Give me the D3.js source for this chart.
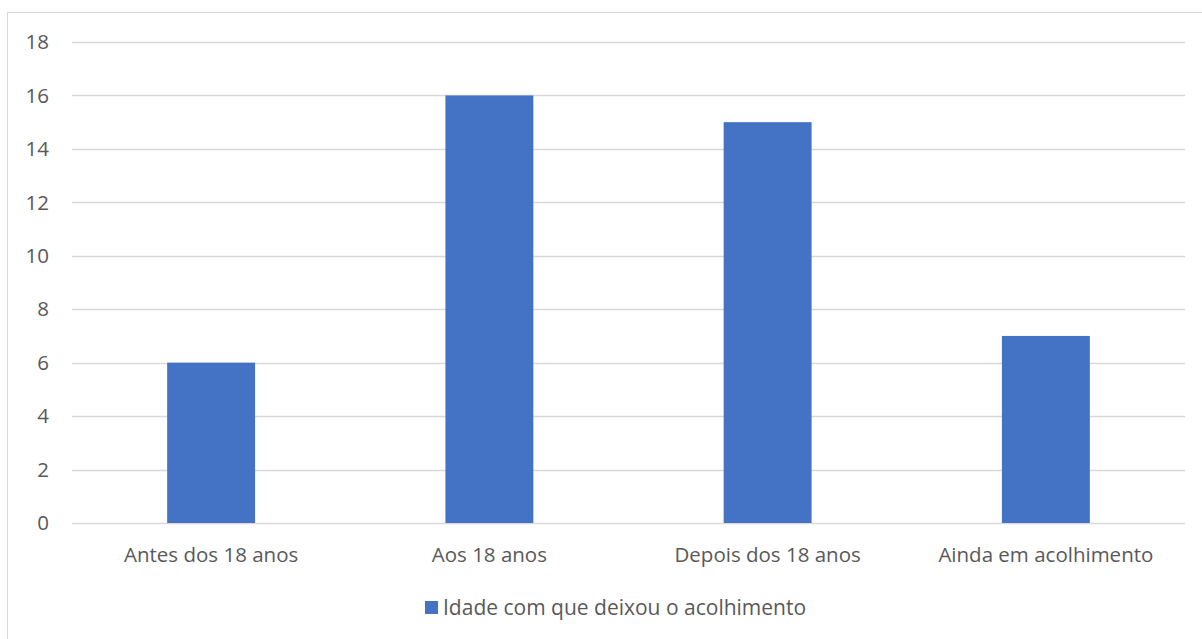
<!DOCTYPE html>
<html>
<head>
<meta charset="utf-8">
<script src="https://cdn.jsdelivr.net/npm/d3@7"></script>
<style>
  body { margin: 0; background: #fff; }
  text { font-family: "Open Sans", "Noto Sans", sans-serif; fill: #595959; }
</style>
</head>
<body>
<div id="chart"></div>
<script>
// categories and values
var categories = ["Antes dos 18 anos", "Aos 18 anos", "Depois dos 18 anos", "Ainda em acolhimento"]
var values = [6, 16, 15, 7]
var yTicks = [0, 2, 4, 6, 8, 10, 12, 14, 16, 18]
var seriesName = "Idade com que deixou o acolhimento"
var barColor = "#4472c4"

var width = 1202, height = 639;
var plot = { left: 72, right: 1185, top: 42, bottom: 523 };

var svg = d3.select("#chart").append("svg")
    .attr("width", width)
    .attr("height", height);

// outer chart border (cut off at right/bottom like the reference)
svg.append("rect")
    .attr("x", 7.5)
    .attr("y", 12.5)
    .attr("width", 1210)
    .attr("height", 640)
    .attr("fill", "none")
    .attr("stroke", "#d9d9d9");

var x = d3.scaleBand()
    .domain(categories)
    .range([plot.left, plot.right])
    .paddingInner(0.684)
    .paddingOuter(0.342);

var y = d3.scaleLinear()
    .domain([0, 18])
    .range([plot.bottom, plot.top]);

// gridlines
svg.append("g").selectAll("line")
    .data(yTicks)
    .enter().append("line")
    .attr("x1", plot.left)
    .attr("x2", plot.right)
    .attr("y1", function(d) { return Math.round(y(d)) + 0.5 })
    .attr("y2", function(d) { return Math.round(y(d)) + 0.5 })
    .attr("stroke", "#d9d9d9")
    .attr("stroke-width", 1.3);

// y tick labels
svg.append("g").selectAll("text")
    .data(yTicks)
    .enter().append("text")
    .attr("x", 49)
    .attr("y", function(d) { return y(d) })
    .attr("dy", "0.35em")
    .attr("text-anchor", "end")
    .style("font-size", "20.5px")
    .text(function(d) { return d });

// bars
svg.append("g").selectAll("rect")
    .data(values)
    .enter().append("rect")
    .attr("x", function(d, i) { return x(categories[i]) })
    .attr("width", x.bandwidth())
    .attr("y", function(d) { return y(d) })
    .attr("height", function(d) { return y(0) - y(d) })
    .attr("fill", barColor);

// x labels
svg.append("g").selectAll("text")
    .data(categories)
    .enter().append("text")
    .attr("x", function(d) { return x(d) + x.bandwidth() / 2 })
    .attr("y", 555)
    .attr("dy", "0.35em")
    .attr("text-anchor", "middle")
    .style("font-size", "20.5px")
    .text(function(d) { return d });

// legend
var legend = svg.append("g");
legend.append("rect")
    .attr("x", 425)
    .attr("y", 601)
    .attr("width", 13)
    .attr("height", 13)
    .attr("fill", barColor);
legend.append("text")
    .attr("x", 443)
    .attr("y", 607.5)
    .attr("dy", "0.35em")
    .style("font-size", "21px")
    .text(seriesName);
</script>
</body>
</html>
